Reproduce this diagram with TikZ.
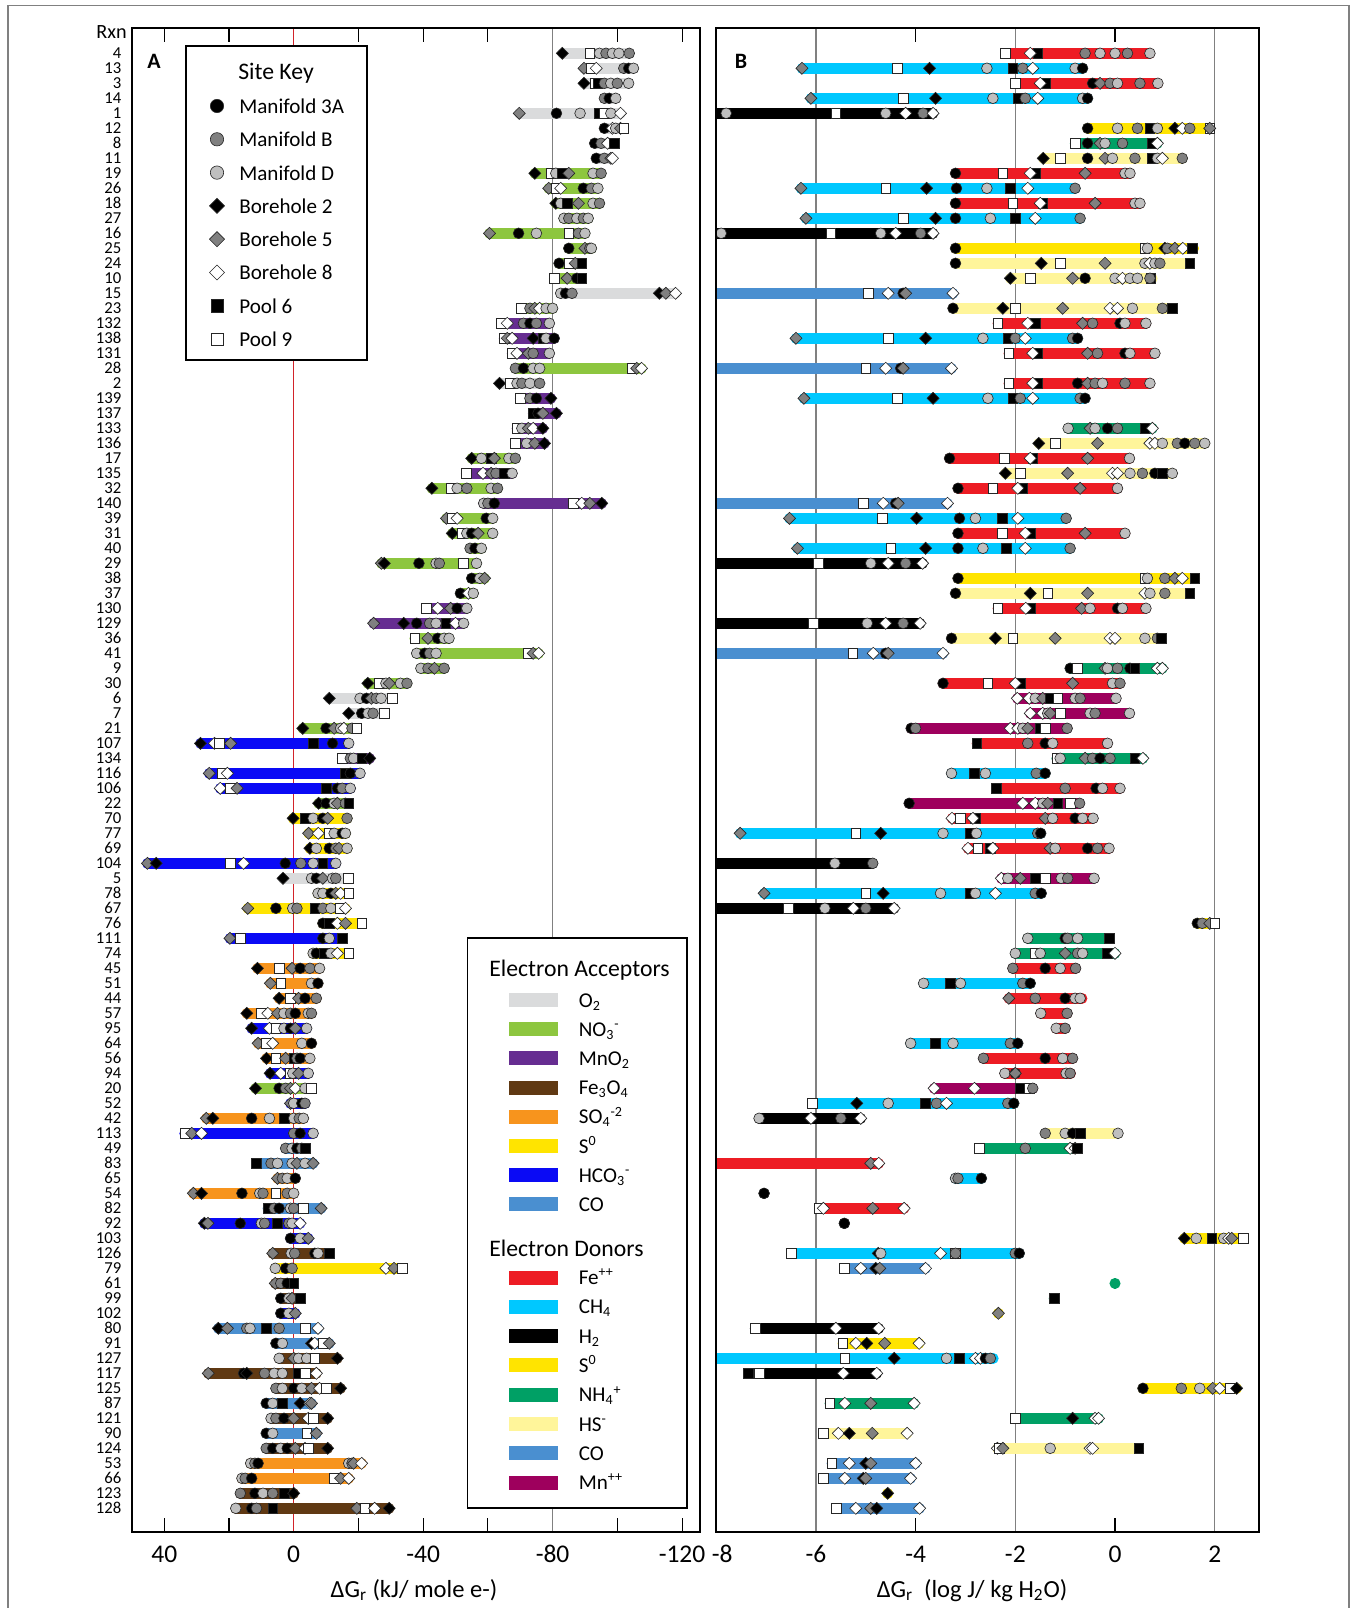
\documentclass[tikz,border=0pt]{standalone}
\usepackage{fontspec}
\setmainfont{Carlito}
\usetikzlibrary{shapes.geometric}

% acceptor and donor colours
\definecolor{otwo}{HTML}{DADBDC}
\definecolor{nothree}{HTML}{8DC63F}
\definecolor{mnotwo}{HTML}{662D91}
\definecolor{feox}{HTML}{603913}
\definecolor{sulf}{HTML}{F7941D}
\definecolor{szero}{HTML}{FFE400}
\definecolor{hco}{HTML}{0A0AF5}
\definecolor{cmon}{HTML}{4A8FD0}
\definecolor{ferr}{HTML}{ED1C24}
\definecolor{meth}{HTML}{00C8FF}
\definecolor{hyd}{HTML}{000000}
\definecolor{amm}{HTML}{00A065}
\definecolor{hsul}{HTML}{FFF59A}
\definecolor{mang}{HTML}{9E005D}
\definecolor{zeroline}{HTML}{D2232A}

\newcommand{\msz}{6.1pt}

\tikzset{
  mk/.style={inner sep=0pt, draw=black!85, line width=0.35pt},
  sitea/.style={mk, circle, minimum size=\msz, fill=black},
  siteb/.style={mk, circle, minimum size=\msz, fill=black!50},
  sited/.style={mk, circle, minimum size=\msz, fill=black!25},
  sitek/.style={mk, diamond, minimum size=1.15*\msz, fill=black},
  siteg/.style={mk, diamond, minimum size=1.15*\msz, fill=black!50},
  sitew/.style={mk, diamond, minimum size=1.15*\msz, fill=white},
  sitep/.style={mk, rectangle, minimum size=0.9*\msz, fill=black},
  siteq/.style={mk, rectangle, minimum size=0.9*\msz, fill=white},
  bar/.style={line width=6pt, line cap=round},
  frame/.style={line width=1pt},
  grid/.style={black!50, line width=0.7pt},
  tick/.style={line width=0.6pt},
  rxnlab/.style={anchor=east, inner sep=0pt, font=\fontsize{9.5}{10}\selectfont},
  ticklab/.style={anchor=base, inner sep=0pt, font=\fontsize{14.5}{16}\selectfont},
  axlab/.style={anchor=base, inner sep=0pt, font=\fontsize{14}{16}\selectfont},
  keytitle/.style={anchor=base, inner sep=0pt, font=\fontsize{13.5}{15}\selectfont},
  keytext/.style={anchor=base west, inner sep=0pt, font=\fontsize{12}{14}\selectfont},
  panel/.style={anchor=base, inner sep=0pt, font=\fontsize{12.5}{14}\selectfont\bfseries},
}

% one reaction row in panel A: row, colour, low end, high end, site markers
\newcommand{\rxnA}[5]{%
  \draw[bar,#2] ({293.7-3.236*(#3)},{53.3+15*(#1-1)}) -- ({293.7-3.236*(#4)},{53.3+15*(#1-1)});
  \foreach \kind/\val [count=\n] in {#5}
    \node[site\kind] (a#1m\n) at ({293.7-3.236*(\val)},{53.3+15*(#1-1)}) {};%
}
% one reaction row in panel B
\newcommand{\rxnB}[5]{%
  \draw[bar,#2] ({1214.7+49.85*((#3)-2)},{53.3+15*(#1-1)}) -- ({1214.7+49.85*((#4)-2)},{53.3+15*(#1-1)});
  \foreach \kind/\val [count=\n] in {#5}
    \node[site\kind] (b#1m\n) at ({1214.7+49.85*((\val)-2)},{53.3+15*(#1-1)}) {};%
}

\begin{document}
\begin{tikzpicture}[x=0.02cm, y=-0.02cm]
  \useasboundingbox (0,0) rectangle (1356,1608);
  \draw[black!50, line width=0.7pt] (8,1608) -- (8,5.7) -- (1349,5.7) -- (1349,1608);

  % row labels
  \node[anchor=base east, inner sep=0pt, font=\fontsize{11.5}{13}\selectfont] (rxn) at (127,38.3) {Rxn};
  \foreach \lab [count=\i] in {4,13,3,14,1,12,8,11,19,26,18,27,16,25,24,10,15,23,132,138,131,28,2,139,137,133,136,17,135,32,140,39,31,40,29,38,37,130,129,36,41,9,30,6,7,21,107,134,116,106,22,70,77,69,104,5,78,67,76,111,74,45,51,44,57,95,64,56,94,20,52,42,113,49,83,65,54,82,92,103,126,79,61,99,102,80,91,127,117,125,87,121,90,124,53,66,123,128}
    \node[rxnlab] (r\i) at (121.7,{53.3+15*(\i-1)}) {\lab};

  %%%%%%%% panel A
  \draw[zeroline, line width=0.6pt] (293.7,28.3) -- (293.7,1532.3);
  \draw[grid] ({293.7+3.236*80},28.3) -- ({293.7+3.236*80},1532.3);
  \foreach \v in {40,20,-20,-40,-60,-100,-120} {
    \draw[tick] ({293.7-3.236*\v},28.3) -- ++(0,14);
    \draw[tick] ({293.7-3.236*\v},1532.3) -- ++(0,-14);
  }
  \begin{scope}
    \clip (132.3,28.3) rectangle (700,1532.3);
    \rxnA{1}{otwo}{-83}{-103.7}{k/-83, q/-91.5, d/-94.5, b/-96.5, d/-98.5, d/-100.5, b/-103.7}
    \rxnA{2}{otwo}{-89.7}{-105}{g/-89.7, q/-92, w/-93.5, b/-102, a/-103.5, d/-105}
    \rxnA{3}{otwo}{-89.7}{-103.5}{k/-89.7, q/-93, p/-94, b/-96, d/-98, b/-100, d/-103.5}
    \rxnA{4}{otwo}{-96}{-99.5}{b/-96, a/-97.5, d/-99.5}
    \rxnA{5}{otwo}{-69.7}{-101}{g/-69.7, a/-81.2, d/-88.5, p/-94.5, q/-96, d/-98, w/-101}
    \rxnA{6}{otwo}{-96}{-102}{a/-96, w/-98.5, d/-99.5, g/-101, q/-102}
    \rxnA{7}{otwo}{-93}{-99}{a/-93, b/-95, w/-97, p/-99}
    \rxnA{8}{otwo}{-93.5}{-98.5}{a/-93.5, b/-96, g/-98, w/-98.5}
    \rxnA{9}{nothree}{-74.5}{-95}{k/-74.5, q/-79.5, d/-81, p/-83, g/-85, d/-92.5, b/-95}
    \rxnA{10}{nothree}{-78.8}{-94}{g/-78.8, q/-81, w/-82.5, a/-89.5, b/-92, d/-94}
    \rxnA{11}{nothree}{-81}{-94.5}{k/-81, d/-82.5, p/-84.5, g/-88, d/-92.5, b/-94.5}
    \rxnA{12}{nothree}{-83.5}{-91}{d/-83.5, b/-85, d/-87.5, b/-89.5, d/-91}
    \rxnA{13}{nothree}{-60.5}{-90}{g/-60.5, a/-69.5, d/-75, q/-85, b/-88, d/-90}
    \rxnA{14}{nothree}{-85}{-92}{a/-85, g/-90, b/-91.5, d/-92}
    \rxnA{15}{nothree}{-82}{-89}{a/-82, q/-85, g/-87, p/-89}
    \rxnA{16}{nothree}{-80.5}{-89}{q/-80.5, g/-84.5, a/-87.5, p/-89}
    \rxnA{17}{otwo}{-82.5}{-118}{d/-82.5, a/-84, b/-86, k/-113, g/-115, w/-118}
    \rxnA{18}{nothree}{-70.3}{-80}{q/-70.3, b/-73, g/-74.5, w/-76, d/-78, d/-80}
    \rxnA{19}{mnotwo}{-64.2}{-79}{q/-64.2, w/-66, b/-71, a/-73, b/-75, d/-79}
    \rxnA{20}{mnotwo}{-65}{-80.5}{q/-65, g/-66, w/-67.5, k/-74, p/-77, d/-78, a/-80.5}
    \rxnA{21}{mnotwo}{-67.5}{-79}{q/-67.5, w/-69, g/-72.5, b/-74, d/-79}
    \rxnA{22}{nothree}{-68.5}{-107.5}{b/-68.5, a/-71, d/-74, d/-76, q/-104.5, g/-106, w/-107.5}
    \rxnA{23}{otwo}{-63.6}{-76}{k/-63.6, q/-67, d/-69, b/-70.5, d/-73, b/-76}
    \rxnA{24}{mnotwo}{-70}{-79.5}{q/-70, b/-73, a/-75, k/-79.5}
    \rxnA{25}{mnotwo}{-74}{-81.2}{p/-74, a/-75.5, g/-77, k/-81.2}
    \rxnA{26}{mnotwo}{-69}{-77}{q/-69, d/-70.5, g/-72.5, w/-74, k/-77}
    \rxnA{27}{mnotwo}{-68.5}{-77.5}{q/-68.5, d/-72, g/-74.5, k/-77.5}
    \rxnA{28}{nothree}{-55}{-68.5}{k/-55, d/-58, p/-61, g/-62, d/-66.5, b/-68.5}
    \rxnA{29}{mnotwo}{-53.3}{-67.5}{q/-53.3, w/-58.5, g/-61, b/-62.5, p/-65, d/-67.5}
    \rxnA{30}{nothree}{-42.7}{-63}{k/-42.7, q/-48.5, d/-50.5, b/-53.5, d/-61, b/-63}
    \rxnA{31}{mnotwo}{-58.7}{-95.2}{d/-58.7, b/-60, a/-62, q/-86.5, w/-89, g/-91.5, k/-95.2}
    \rxnA{32}{nothree}{-47.2}{-61.5}{g/-47.2, q/-49, w/-50.5, a/-59.5, d/-61.5}
    \rxnA{33}{nothree}{-49}{-61.5}{k/-49, q/-52, d/-53.5, a/-55, g/-57, d/-61.5}
    \rxnA{34}{nothree}{-54.5}{-58}{b/-54.5, a/-56, d/-58}
    \rxnA{35}{nothree}{-27.1}{-56.5}{g/-27.1, k/-28, a/-38.7, d/-44, b/-45, q/-52.5, d/-56.5}
    \rxnA{36}{nothree}{-55}{-59}{a/-55, d/-57.5, g/-59}
    \rxnA{37}{nothree}{-51.5}{-55.5}{a/-51.5, w/-54, d/-55.5}
    \rxnA{38}{mnotwo}{-41}{-53.5}{q/-41, w/-44.5, g/-48.5, a/-50.5, d/-53.5}
    \rxnA{39}{mnotwo}{-24.7}{-52.5}{g/-24.7, k/-34, a/-38, b/-42, d/-44, p/-47, w/-50, d/-52.5}
    \rxnA{40}{nothree}{-37.4}{-48}{q/-37.4, g/-41.5, a/-44.5, d/-46.5, d/-48}
    \rxnA{41}{nothree}{-38}{-75.7}{d/-38, a/-40.5, b/-42, d/-44, q/-72.5, g/-74, w/-75.7}
    \rxnA{42}{nothree}{-39.3}{-46.5}{d/-39.3, b/-41.5, g/-43.5, b/-46.5}
    \rxnA{43}{nothree}{-22.9}{-35}{k/-22.9, q/-26.5, d/-28.5, g/-29.5, d/-33, b/-35}
    \rxnA{44}{otwo}{-11}{-30.5}{k/-11, d/-20.5, a/-22.5, g/-24, b/-25.5, d/-27, q/-30.5}
    \rxnA{45}{otwo}{-17}{-28}{k/-17, a/-21, d/-23, b/-24.5, q/-28}
    \rxnA{46}{nothree}{-2.8}{-19.5}{k/-2.8, a/-10, g/-12.5, d/-14.5, w/-15.5, b/-18, q/-19.5}
    \rxnA{47}{hco}{28.8}{-17}{k/28.8, w/24.5, q/23, g/19.5, p/-6, a/-12, d/-17}
    \rxnA{48}{mnotwo}{-15}{-23.5}{q/-15, b/-17.5, d/-18.5, p/-21, k/-23.5}
    \rxnA{49}{hco}{26.1}{-20.5}{g/26.1, q/22, w/20.5, p/-16, a/-17.5, d/-20.5}
    \rxnA{50}{hco}{22.7}{-17.5}{w/22.7, q/19.5, g/17.5, p/-10, a/-13.5, b/-15, d/-17.5}
    \rxnA{51}{nothree}{-7.7}{-17}{k/-7.7, a/-10, d/-12.5, g/-13.5, b/-16, p/-17}
    \rxnA{52}{szero}{0.2}{-16.5}{k/0.2, p/-3.5, d/-6, a/-9, g/-10.5, b/-16.5}
    \rxnA{53}{szero}{-4.6}{-16}{g/-4.6, w/-7.6, q/-11, d/-12.5, a/-15, d/-16}
    \rxnA{54}{szero}{-5}{-16.5}{k/-5, d/-7, a/-11, b/-13, g/-14, d/-16.5}
    \rxnA{55}{hco}{45.2}{-13}{g/45.2, k/42.5, q/19.5, w/15.5, a/2.6, b/-2.2, d/-6, p/-9, d/-13}
    \rxnA{56}{otwo}{3.3}{-16.8}{k/3.3, d/-5.5, a/-7, g/-9, d/-12, b/-13, q/-16.8}
    \rxnA{57}{szero}{-7.5}{-17}{d/-7.5, d/-9, a/-11.5, g/-13, w/-14.5, q/-17}
    \rxnA{58}{szero}{14.2}{-16}{g/14.2, a/5.5, d/0.3, b/-1, p/-6.5, b/-9, d/-11.5, q/-14.5, w/-16}
    \rxnA{59}{szero}{-9}{-21}{a/-9, p/-11, w/-13.5, g/-16, q/-21}
    \rxnA{60}{hco}{19.7}{-15}{g/19.7, q/16.5, a/-9, d/-11, p/-15}
    \rxnA{61}{szero}{-6}{-17}{d/-6, a/-7, p/-9.5, d/-11.5, w/-13.5, q/-17}
    \rxnA{62}{sulf}{11.2}{-8}{k/11.2, q/4.5, g/0.5, a/-2, b/-5, d/-8}
    \rxnA{63}{sulf}{7.2}{-7.5}{g/7.2, q/4, d/-5.5, a/-7.5}
    \rxnA{64}{sulf}{4.5}{-7}{k/4.5, q/1, g/-1.5, a/-3.5, b/-7}
    \rxnA{65}{sulf}{14.5}{-5.5}{k/14.5, q/10, w/8, g/5, d/3, b/1, a/-0.5, d/-4.5, b/-5.5}
    \rxnA{66}{hco}{13}{-4}{k/13, w/7.5, q/5.5, d/3, a/1, g/-0.5, d/-4}
    \rxnA{67}{sulf}{11}{-5.5}{g/11, q/8.5, w/6.5, d/-2.5, a/-5.5}
    \rxnA{68}{sulf}{8.4}{-5}{k/8.4, q/5.5, g/2.5, p/0, b/-1, a/-2, d/-5}
    \rxnA{69}{hco}{7.3}{-4.5}{k/7.3, w/4, q/1, d/0.3, g/-1.5, d/-4.5}
    \rxnA{70}{nothree}{11.8}{-5.5}{k/11.8, a/4.5, b/2.5, g/1, w/-0.5, d/-3.5, q/-5.5}
    \rxnA{71}{hco}{1}{-3.5}{g/1, d/0, a/-2.5, b/-3.5}
    \rxnA{72}{sulf}{27}{-3}{g/27, k/25, a/13, d/7.5, p/3, d/0, b/-1.7, d/-3}
    \rxnA{73}{hco}{33.7}{-6}{q/33.7, g/31.5, w/28.5, b/0, a/-2, d/-6}
    \rxnA{74}{cmon}{2.5}{-3.5}{b/2.5, d/0.5, a/-1, b/-2.5, p/-3.5}
    \rxnA{75}{cmon}{11.5}{-6}{p/11.5, b/7, d/5, d/0.5, g/-1, d/-3.5, g/-6}
    \rxnA{76}{sulf}{5}{-0.5}{g/5, b/3.5, d/2, a/-0.5}
    \rxnA{77}{sulf}{31}{0}{g/31, k/28.5, a/16, d/10.5, b/9.5, q/5.5, b/2, d/0}
    \rxnA{78}{cmon}{8}{-8.5}{p/8, b/6, a/4.5, d/1, b/0, q/-3, g/-8.5}
    \rxnA{79}{hco}{27.6}{-2}{k/27.6, g/26.5, a/16.5, d/10, b/9, p/5, b/1.5, d/0.5, w/-2}
    \rxnA{80}{hco}{1}{-4.5}{a/1, d/-2, g/-4.5}
    \rxnA{81}{feox}{6.5}{-11}{g/6.5, d/0.8, b/-0.3, a/-6.5, d/-7.5, p/-11}
    \rxnA{82}{szero}{5.7}{-33.5}{d/5.7, a/2.5, b/0.5, w/-28.5, g/-31, q/-33.5}
    \rxnA{83}{feox}{5.7}{0}{g/5.7, b/4, a/2, p/0}
    \rxnA{84}{feox}{4}{-2}{a/4, d/1.5, g/0.5, p/-2}
    \rxnA{85}{hco}{4}{-0.5}{a/4, d/1.5, g/-0.5}
    \rxnA{86}{cmon}{23.3}{-7.5}{k/23.3, g/20.5, b/14.5, d/13.5, p/8.5, b/4.5, q/-3.5, w/-7.5}
    \rxnA{87}{cmon}{5.5}{-11}{a/5.5, d/3.5, k/-5.5, w/-6.5, q/-9, g/-11}
    \rxnA{88}{feox}{4.5}{-13.5}{d/4.5, g/0, d/-1.5, d/-4, q/-6.5, k/-13.5}
    \rxnA{89}{feox}{26.4}{-7}{g/26.4, a/15.5, k/14.5, b/9, d/6, d/3.5, p/-1.5, q/-3.5, w/-7}
    \rxnA{90}{feox}{5.5}{-14.5}{b/5.5, d/3.5, a/0, d/-2.5, g/-5.5, w/-8, q/-10, k/-14.5}
    \rxnA{91}{cmon}{8.5}{-5.5}{a/8.5, d/6.5, p/3.5, k/-2, w/-5, g/-5.5}
    \rxnA{92}{feox}{7}{-10.5}{d/7, b/5.5, a/3, g/0, w/-4.5, q/-6, k/-10.5}
    \rxnA{93}{cmon}{8.5}{-7}{a/8.5, d/6.5, q/-4, g/-7}
    \rxnA{94}{feox}{8.5}{-10.5}{b/8.5, a/6.5, d/4, a/2, g/-0.5, w/-3.5, q/-4.5, k/-10.5}
    \rxnA{95}{sulf}{13.3}{-21}{d/13.3, b/12, a/11, d/-17, b/-18, g/-18.5, w/-21}
    \rxnA{96}{sulf}{16}{-17}{d/16, b/15, a/13, q/-12.5, g/-14.5, w/-17}
    \rxnA{97}{feox}{16.5}{0}{b/16.5, a/12, d/9.5, b/6.5, p/3, k/0}
    \rxnA{98}{feox}{17.9}{-29.5}{d/17.9, a/13, b/11.5, p/6.5, g/-19.5, q/-22, w/-25, k/-29.5}
  \end{scope}
  \draw[frame] (132.3,28.3) rectangle (700,1532.3);
  \node[panel] (pA) at (154,68.3) {A};

  % site key
  \draw[frame, fill=white] (185.7,46) rectangle (367,360);
  \node[keytitle] (sitekey) at (276,80) {Site Key};
  \begin{scope}
    \def\msz{7.6pt}
    \foreach \kind/\lbl [count=\k] in {a/Manifold 3A, b/Manifold B, d/Manifold D, k/Borehole 2, g/Borehole 5, w/Borehole 8, p/Pool 6, q/Pool 9} {
      \node[site\kind] (key\k) at (217,{106+33.3*(\k-1)}) {};
      \node[keytext] (keylab\k) at (239,{113.5+33.3*(\k-1)}) {\lbl};
    }
  \end{scope}

  % electron acceptors and donors
  \draw[frame, fill=white] (467.4,938.3) rectangle (687.3,1508.3);
  \node[keytitle, anchor=base west] (acc) at (489,976) {Electron Acceptors};
  \foreach \c/\lbl [count=\k] in {otwo/O\textsubscript{2}, nothree/NO\textsubscript{3}\textsuperscript{-}, mnotwo/MnO\textsubscript{2}, feox/Fe\textsubscript{3}O\textsubscript{4}, sulf/SO\textsubscript{4}\textsuperscript{-2}, szero/S\textsuperscript{0}, hco/HCO\textsubscript{3}\textsuperscript{-}, cmon/CO} {
    \fill[\c] (508.8,{993+29.2*(\k-1)}) rectangle (558,{1007+29.2*(\k-1)});
    \node[keytext] (acclab\k) at (578.5,{1007+29.2*(\k-1)}) {\lbl};
  }
  \node[keytitle, anchor=base west] (don) at (489,1256) {Electron Donors};
  \foreach \c/\lbl [count=\k] in {ferr/Fe\textsuperscript{++}, meth/CH\textsubscript{4}, hyd/H\textsubscript{2}, szero/S\textsuperscript{0}, amm/NH\textsubscript{4}\textsuperscript{+}, hsul/HS\textsuperscript{-}, cmon/CO, mang/Mn\textsuperscript{++}} {
    \fill[\c] (508.8,{1270.5+29.3*(\k-1)}) rectangle (558,{1284.5+29.3*(\k-1)});
    \node[keytext] (donlab\k) at (578.5,{1284.5+29.3*(\k-1)}) {\lbl};
  }

  % axis A
  \foreach \v [count=\k] in {40,0,-40,-80,-120}
    \node[ticklab] (ta\k) at ({293.7-3.236*\v},1562.5) {\v};
  \node[axlab] (xlabA) at (414,1597) {ΔG\textsubscript{r} (kJ/ mole e-)};

  %%%%%%%% panel B
  \foreach \v in {-6,-2,2}
    \draw[grid] ({1214.7+49.85*(\v-2)},28.3) -- ({1214.7+49.85*(\v-2)},1532.3);
  \foreach \v in {-4,0} {
    \draw[tick] ({1214.7+49.85*(\v-2)},28.3) -- ++(0,14);
    \draw[tick] ({1214.7+49.85*(\v-2)},1532.3) -- ++(0,-14);
  }
  \begin{scope}
    \clip (716,28.3) rectangle (1258.7,1532.3);
    \rxnB{1}{ferr}{-2.2}{0.7}{q/-2.2, p/-1.55, w/-1.7, b/-0.6, d/-0.3, d/0, b/0.25, d/0.7}
    \rxnB{2}{meth}{-6.28}{-0.65}{g/-6.28, q/-4.37, k/-3.72, d/-2.57, p/-2.05, b/-1.85, w/-1.65, d/-0.8, a/-0.65}
    \rxnB{3}{ferr}{-2.0}{0.86}{q/-2.0, p/-1.4, w/-1.5, a/-0.45, g/-0.3, b/-0.1, d/0.05, b/0.5, d/0.86}
    \rxnB{4}{meth}{-6.1}{-0.55}{g/-6.1, q/-4.25, k/-3.6, d/-2.45, p/-1.95, b/-1.8, w/-1.55, d/-0.65, a/-0.55}
    \rxnB{5}{hyd}{-8.3}{-3.65}{d/-7.8, q/-5.6, d/-4.6, w/-4.2, b/-3.85, w/-3.65}
    \rxnB{6}{szero}{-0.55}{1.9}{a/-0.55, d/0.05, b/0.45, p/0.7, d/0.85, k/1.2, w/1.35, b/1.5, q/1.9, g/1.9}
    \rxnB{7}{amm}{-0.8}{0.85}{q/-0.8, a/-0.55, g/-0.3, d/-0.2, b/0.15, p/0.75, w/0.85}
    \rxnB{8}{hsul}{-1.44}{1.35}{k/-1.44, q/-1.1, a/-0.55, g/-0.2, d/-0.05, b/0.4, p/0.75, d/0.85, w/0.95, b/1.35}
    \rxnB{9}{ferr}{-3.2}{0.3}{a/-3.2, q/-2.25, p/-1.6, w/-1.7, g/-0.6, d/0.2, d/0.3}
    \rxnB{10}{meth}{-6.3}{-0.8}{g/-6.3, q/-4.6, k/-3.78, a/-3.18, d/-2.57, p/-2.1, w/-1.75, b/-0.8}
    \rxnB{11}{ferr}{-3.2}{0.5}{a/-3.2, q/-2.05, p/-1.45, w/-1.5, g/-0.4, d/0.4, d/0.5}
    \rxnB{12}{meth}{-6.2}{-0.7}{g/-6.2, q/-4.25, k/-3.6, a/-3.2, d/-2.5, p/-2.0, w/-1.6, b/-0.7}
    \rxnB{13}{hyd}{-8.3}{-3.65}{d/-7.9, q/-5.7, d/-4.7, w/-4.4, b/-3.9, w/-3.65}
    \rxnB{14}{szero}{-3.2}{1.58}{a/-3.2, q/0.6, d/0.65, k/1.0, b/1.05, g/1.2, w/1.36, p/1.55}
    \rxnB{15}{hsul}{-3.2}{1.5}{a/-3.2, k/-1.48, q/-1.1, g/-0.2, d/0.6, w/0.7, d/0.8, b/0.9, p/1.5}
    \rxnB{16}{hsul}{-2.1}{0.75}{k/-2.1, q/-1.7, g/-0.85, a/-0.6, d/0, w/0.15, d/0.3, d/0.45, p/0.72, b/0.7}
    \rxnB{17}{cmon}{-8.3}{-3.25}{q/-4.95, w/-4.55, a/-4.25, g/-4.2, w/-3.25}
    \rxnB{18}{hsul}{-3.25}{1.15}{a/-3.25, k/-2.25, q/-2.0, g/-1.05, w/-0.1, w/0.05, d/0.35, b/0.95, p/1.15}
    \rxnB{19}{ferr}{-2.35}{0.62}{q/-2.35, p/-1.6, w/-1.75, g/-0.65, b/-0.45, a/0.1, d/0.2, d/0.62}
    \rxnB{20}{meth}{-6.4}{-0.75}{g/-6.4, q/-4.55, k/-3.8, d/-2.65, p/-2.15, b/-2.0, w/-1.8, b/-0.85, a/-0.75}
    \rxnB{21}{ferr}{-2.13}{0.8}{q/-2.13, p/-1.55, w/-1.65, g/-0.55, b/-0.35, a/0.2, d/0.3, d/0.8}
    \rxnB{22}{cmon}{-8.3}{-3.28}{q/-5.0, w/-4.6, a/-4.3, g/-4.25, w/-3.28}
    \rxnB{23}{ferr}{-2.13}{0.7}{q/-2.13, p/-1.55, w/-1.65, a/-0.75, g/-0.55, b/-0.4, d/-0.25, b/0.2, d/0.7}
    \rxnB{24}{meth}{-6.24}{-0.6}{g/-6.24, q/-4.37, k/-3.65, d/-2.55, p/-2.05, b/-1.9, w/-1.65, b/-0.7, a/-0.6}
    \rxnB{26}{amm}{-0.94}{0.75}{d/-0.94, g/-0.5, d/-0.4, a/-0.15, b/0.05, p/0.6, w/0.75}
    \rxnB{27}{hsul}{-1.53}{1.8}{k/-1.53, q/-1.2, g/-0.35, w/0.7, w/0.8, d/0.95, b/1.25, a/1.4, b/1.6, d/1.8}
    \rxnB{28}{ferr}{-3.32}{0.29}{a/-3.32, q/-2.22, p/-1.65, w/-1.7, g/-0.55, d/0.29}
    \rxnB{29}{hsul}{-2.2}{1.15}{k/-2.2, q/-1.9, g/-0.95, w/-0.05, w/0.05, d/0.3, b/0.55, a/0.8, p/0.95, d/1.15}
    \rxnB{30}{ferr}{-3.15}{0.05}{a/-3.15, q/-2.45, p/-1.85, w/-1.95, g/-0.7, d/0.05}
    \rxnB{31}{cmon}{-8.3}{-3.36}{q/-5.05, w/-4.65, a/-4.4, g/-4.35, w/-3.36}
    \rxnB{32}{meth}{-6.53}{-0.98}{g/-6.53, q/-4.67, k/-3.98, a/-3.12, d/-2.8, p/-2.26, w/-1.95, b/-0.98}
    \rxnB{33}{ferr}{-3.15}{0.2}{a/-3.15, q/-2.26, p/-1.7, w/-1.8, g/-0.6, d/0.2}
    \rxnB{34}{meth}{-6.37}{-0.9}{g/-6.37, q/-4.5, k/-3.8, a/-3.15, d/-2.65, p/-2.18, w/-1.8, b/-0.9}
    \rxnB{35}{hyd}{-8.3}{-3.86}{q/-5.95, d/-4.9, w/-4.55, b/-4.2, w/-3.86}
    \rxnB{36}{szero}{-3.15}{1.6}{a/-3.15, q/0.6, d/0.65, b/1.0, g/1.2, w/1.35, p/1.6}
    \rxnB{37}{hsul}{-3.2}{1.5}{a/-3.2, k/-1.7, q/-1.35, g/-0.55, w/0.6, d/0.7, b/1.0, p/1.5}
    \rxnB{38}{ferr}{-2.35}{0.62}{q/-2.35, p/-1.7, w/-1.79, g/-0.67, d/-0.5, a/0.05, d/0.15, d/0.62}
    \rxnB{39}{hyd}{-8.3}{-3.91}{q/-6.05, d/-4.97, w/-4.6, b/-4.25, w/-3.91}
    \rxnB{40}{hsul}{-3.28}{0.93}{a/-3.28, k/-2.4, q/-2.05, g/-1.2, w/-0.1, w/0, d/0.6, b/0.85, p/0.93}
    \rxnB{41}{cmon}{-8.3}{-3.45}{q/-5.26, w/-4.85, a/-4.6, g/-4.55, w/-3.45}
    \rxnB{42}{amm}{-0.9}{0.95}{a/-0.9, q/-0.75, g/-0.2, d/-0.15, b/0.05, a/0.3, p/0.4, w/0.85, w/0.95}
    \rxnB{43}{ferr}{-3.45}{0.1}{a/-3.45, q/-2.55, p/-1.9, w/-2.0, g/-0.85, d/-0.05, b/0.1}
    \rxnB{44}{mang}{-1.96}{0.02}{w/-1.96, w/-1.72, d/-1.6, g/-1.45, p/-1.3, q/-1.15, d/-0.8, b/-0.7, d/0.02}
    \rxnB{45}{mang}{-1.7}{0.29}{w/-1.7, w/-1.45, d/-1.35, g/-1.3, q/-1.1, d/-0.5, b/-0.4, d/0.29}
    \rxnB{46}{mang}{-4.09}{-0.96}{a/-4.09, b/-4.0, w/-2.1, w/-1.95, d/-1.85, g/-1.75, p/-1.5, q/-1.4, b/-0.96}
    \rxnB{47}{ferr}{-2.77}{-0.15}{p/-2.77, b/-1.75, a/-1.4, d/-1.25, d/-0.15}
    \rxnB{48}{amm}{-1.17}{0.56}{q/-1.17, d/-1.1, g/-0.6, b/-0.45, a/-0.3, b/-0.1, p/0.4, w/0.56}
    \rxnB{49}{meth}{-3.28}{-1.4}{d/-3.28, p/-2.82, d/-2.6, b/-1.58, a/-1.4}
    \rxnB{50}{ferr}{-2.38}{0.1}{p/-2.38, b/-1.0, a/-0.38, d/-0.25, d/0.1}
    \rxnB{51}{mang}{-4.13}{-0.71}{a/-4.13, w/-1.85, w/-1.6, d/-1.45, g/-1.35, p/-1.15, q/-0.9, b/-0.71}
    \rxnB{52}{ferr}{-3.27}{-0.44}{w/-3.27, q/-3.1, p/-2.8, w/-2.85, g/-1.4, d/-1.25, a/-0.8, d/-0.65, d/-0.44}
    \rxnB{53}{meth}{-7.52}{-1.49}{g/-7.52, q/-5.2, k/-4.7, d/-3.45, p/-2.9, d/-2.78, b/-1.55, a/-1.49}
    \rxnB{54}{ferr}{-2.95}{-0.12}{w/-2.95, q/-2.75, p/-2.5, w/-2.45, g/-1.3, d/-1.2, a/-0.55, b/-0.35, d/-0.12}
    \rxnB{55}{hyd}{-8.3}{-4.86}{d/-5.62, b/-4.86}
    \rxnB{56}{mang}{-2.28}{-0.42}{w/-2.28, d/-2.15, g/-1.9, p/-1.6, q/-1.4, d/-1.08, b/-0.95, d/-0.42}
    \rxnB{57}{meth}{-7.04}{-1.48}{g/-7.04, q/-5.0, k/-4.65, d/-3.5, p/-2.9, d/-2.8, w/-2.4, b/-1.6, a/-1.48}
    \rxnB{58}{hyd}{-8.3}{-4.43}{q/-6.55, d/-5.82, w/-5.25, b/-5.0, w/-4.43}
    \rxnB{59}{szero}{1.65}{2.0}{a/1.65, b/1.75, g/1.9, q/2.0}
    \rxnB{60}{amm}{-1.75}{-0.12}{d/-1.75, a/-1.0, b/-0.95, d/-0.75, p/-0.12}
    \rxnB{61}{amm}{-2.0}{0}{d/-2.0, q/-1.6, d/-1.5, g/-1.0, b/-0.75, d/-0.65, p/-0.15, w/0}
    \rxnB{62}{ferr}{-2.05}{-0.79}{b/-2.05, a/-1.4, d/-1.1, b/-0.79}
    \rxnB{63}{meth}{-3.84}{-1.7}{d/-3.84, p/-3.3, d/-3.1, b/-1.85, a/-1.7}
    \rxnB{64}{ferr}{-2.13}{-0.66}{g/-2.13, b/-1.6, a/-1.0, d/-0.8, d/-0.7}
    \rxnB{65}{ferr}{-1.49}{-0.96}{d/-1.49, b/-0.96}
    \rxnB{66}{ferr}{-1.18}{-1.0}{d/-1.18, b/-1.0}
    \rxnB{67}{meth}{-4.1}{-1.95}{d/-4.1, p/-3.6, d/-3.25, b/-2.1, a/-1.95}
    \rxnB{68}{ferr}{-2.64}{-0.85}{b/-2.64, a/-1.4, d/-1.05, b/-0.85}
    \rxnB{69}{ferr}{-2.21}{-0.89}{d/-2.21, a/-2.0, g/-2.0, d/-0.98, b/-0.9}
    \rxnB{70}{mang}{-3.63}{-1.65}{w/-3.63, w/-2.82, p/-1.9, q/-1.72, b/-1.65}
    \rxnB{71}{meth}{-6.07}{-2.03}{q/-6.07, k/-5.18, d/-4.55, p/-3.8, b/-3.58, w/-3.38, b/-2.15, a/-2.03}
    \rxnB{72}{hyd}{-7.14}{-5.1}{d/-7.14, w/-6.1, b/-5.5, w/-5.1}
    \rxnB{73}{hsul}{-1.4}{0.06}{b/-1.4, d/-1.0, a/-0.85, p/-0.7, d/0.06}
    \rxnB{74}{amm}{-2.72}{-0.75}{q/-2.72, b/-1.8, w/-0.9, w/-0.8, p/-0.75}
    \rxnB{75}{ferr}{-8.3}{-4.74}{g/-4.9, w/-4.74}
    \rxnB{76}{meth}{-3.2}{-2.68}{d/-3.2, b/-3.15, a/-2.68}
    \rxnB{77}{hyd}{-7.045}{-7.035}{a/-7.04}
    \rxnB{78}{ferr}{-5.93}{-4.23}{q/-5.93, w/-5.85, g/-4.86, w/-4.23}
    \rxnB{79}{hyd}{-5.435}{-5.425}{a/-5.43}
    \rxnB{80}{szero}{1.39}{2.57}{k/1.39, d/1.63, p/1.94, d/2.18, w/2.28, g/2.34, q/2.57}
    \rxnB{81}{meth}{-6.49}{-1.92}{q/-6.49, k/-4.75, d/-4.7, w/-3.5, q/-3.2, b/-3.2, b/-2.0, a/-1.92}
    \rxnB{82}{cmon}{-5.43}{-3.8}{q/-5.43, w/-5.1, k/-4.8, g/-4.72, w/-3.8}
    \draw[bar,amm] ({1214.7+49.85*(-0.005-2)},{53.3+15*82}) -- ({1214.7+49.85*(0.005-2)},{53.3+15*82});
    \rxnB{84}{amm}{-1.225}{-1.215}{p/-1.22}
    \rxnB{85}{szero}{-2.345}{-2.335}{g/-2.34}
    \rxnB{86}{hyd}{-7.22}{-4.74}{q/-7.22, w/-5.6, w/-4.74}
    \rxnB{87}{szero}{-5.46}{-3.93}{q/-5.46, w/-5.2, k/-4.98, g/-4.62, w/-3.93}
    \rxnB{88}{meth}{-8.3}{-2.44}{q/-5.42, k/-4.43, d/-3.38, p/-3.13, w/-2.8, w/-2.7, a/-2.6, b/-2.5}
    \rxnB{89}{hyd}{-7.35}{-4.78}{p/-7.35, q/-7.14, w/-5.45, w/-4.78}
    \rxnB{90}{szero}{0.56}{2.44}{a/0.56, b/1.33, d/1.7, g/1.96, w/2.1, q/2.3, k/2.44}
    \rxnB{91}{amm}{-5.72}{-4.03}{q/-5.72, w/-5.42, g/-4.9, w/-4.03}
    \rxnB{92}{amm}{-2.0}{-0.33}{q/-2.0, k/-0.85, w/-0.4, w/-0.33}
    \rxnB{93}{hsul}{-5.85}{-4.17}{q/-5.85, w/-5.55, k/-5.33, g/-4.87, w/-4.17}
    \rxnB{94}{hsul}{-2.36}{0.48}{w/-2.36, q/-2.32, g/-2.25, d/-1.3, w/-0.5, w/-0.45, p/0.48}
    \rxnB{95}{cmon}{-5.68}{-4.0}{q/-5.68, w/-5.33, k/-5.0, g/-4.9, w/-4.0}
    \rxnB{96}{cmon}{-5.85}{-4.1}{q/-5.85, w/-5.42, k/-5.05, g/-5.0, w/-4.1}
    \rxnB{97}{szero}{-4.565}{-4.555}{k/-4.56}
    \rxnB{98}{cmon}{-5.59}{-3.92}{q/-5.59, w/-5.2, g/-4.9, k/-4.78, w/-3.92}
  \end{scope}
  \draw[frame] (716,28.3) rectangle (1258.7,1532.3);
  \node[panel] (pB) at (741,68.3) {B};

  % axis B
  \foreach \v [count=\k] in {-8,-6,-4,-2,0,2}
    \node[ticklab] (tb\k) at ({1214.7+49.85*(\v-2)+(\v==-8)*6},1562.5) {\v};
  \node[axlab] (xlabB) at (972,1597) {ΔG\textsubscript{r}\ \ (log J/ kg H\textsubscript{2}O)};
\end{tikzpicture}
\end{document}
